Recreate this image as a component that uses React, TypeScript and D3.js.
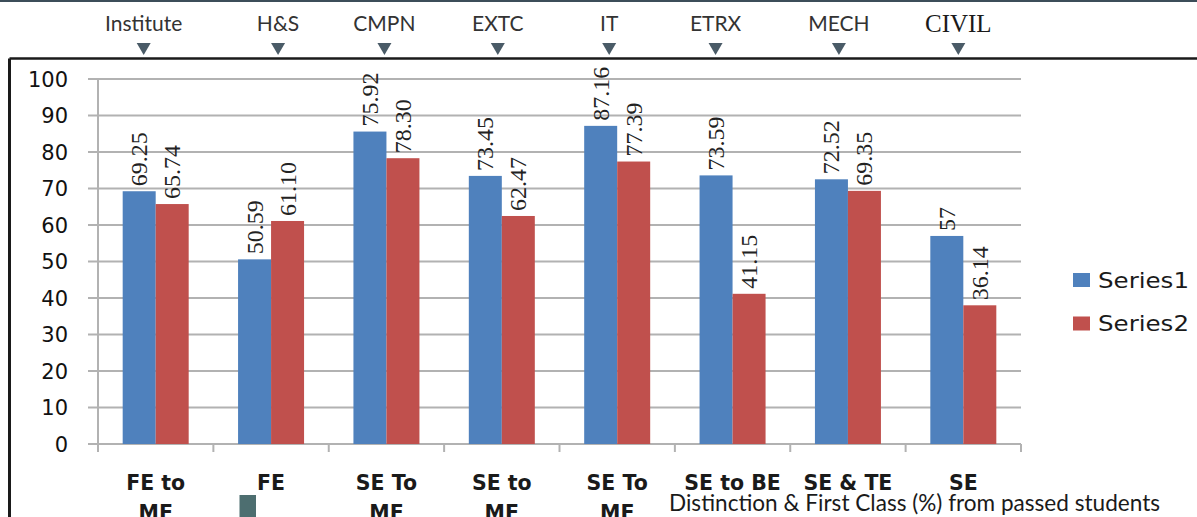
import React from "react";
import * as d3 from "d3";

// chart data
const groups = [
  ["FE to", "ME"],
  ["FE"],
  ["SE To", "ME"],
  ["SE to", "ME"],
  ["SE To", "ME"],
  ["SE to BE"],
  ["SE & TE"],
  ["SE"],
];
const departments = ["Institute", "H&S", "CMPN", "EXTC", "IT", "ETRX", "MECH", "CIVIL"];
const series1 = [69.25, 50.59, 85.6, 73.45, 87.16, 73.59, 72.52, 57];
const series2 = [65.74, 61.1, 78.3, 62.47, 77.39, 41.15, 69.35, 38];
const series1Labels = ["69.25", "50.59", "75.92", "73.45", "87.16", "73.59", "72.52", "57"];
const series2Labels = ["65.74", "61.10", "78.30", "62.47", "77.39", "41.15", "69.35", "36.14"];
const seriesNames = ["Series1", "Series2"];
const caption = "Distinction & First Class (%) from passed students";

const W = 1197;
const H = 517;
const BLUE = "#4f81bd";
const RED = "#c0504d";
const GRID = "#b2b2b2";
const SERIF = "'Liberation Serif', 'Times New Roman', serif";
// the department markers are not quite on the band centres
const deptNudge = [-12, 7, -2, -4, -8, -17, -9, -5];

export default function App() {
  const idx = groups.map((_, i) => String(i));
  const x = d3.scaleBand<string>().domain(idx).range([98, 1021]).padding(0);
  const bw = x.bandwidth();
  const groupW = 66;
  const x1 = d3
    .scaleBand<string>()
    .domain(seriesNames)
    .range([(bw - groupW) / 2, (bw + groupW) / 2]);
  const y = d3.scaleLinear().domain([0, 100]).range([444, 79]);
  const yTicks = y.ticks(10);

  const sets = [
    { name: seriesNames[0], vals: series1, labels: series1Labels, color: BLUE },
    { name: seriesNames[1], vals: series2, labels: series2Labels, color: RED },
  ];

  return (
    <svg
      width={W}
      height={H}
      style={{ position: "absolute", left: 0, top: 0, background: "#fff" }}
    >
      {/* top rule */}
      <rect x={0} y={0} width={W} height={2} fill="#3c4d59" />

      {/* department markers */}
      {departments.map((d, i) => {
        const cx = (x(String(i)) ?? 0) + bw / 2 + deptNudge[i];
        const civil = d === "CIVIL";
        return (
          <g key={d}>
            <text
              x={cx}
              y={civil ? 32 : 30.5}
              textAnchor="middle"
              fontFamily={civil ? SERIF : "Lato"}
              fontSize={civil ? 25 : 21}
              fill={civil ? "#1a1a1a" : "#333"}
            >
              {d}
            </text>
            <path
              d={`M${cx - 7},43 L${cx + 7},43 L${cx},55 Z`}
              fill="#4a5b67"
            />
          </g>
        );
      })}

      {/* frame */}
      <line x1={9.5} y1={58.5} x2={W} y2={58.5} stroke="#1a1a1a" strokeWidth={2.5} />
      <line x1={9.5} y1={58.5} x2={9.5} y2={H} stroke="#1a1a1a" strokeWidth={3} />

      {/* grid */}
      {yTicks.map((t) => (
        <g key={t}>
          <line x1={88} x2={1021} y1={y(t)} y2={y(t)} stroke={GRID} strokeWidth={2} />
          <text
            x={68}
            y={y(t)}
            dy="0.36em"
            textAnchor="end"
            fontFamily="DejaVu Sans"
            fontSize={21}
            fill="#111"
          >
            {t}
          </text>
        </g>
      ))}
      <line x1={98} x2={98} y1={79} y2={452} stroke={GRID} strokeWidth={2} />
      {idx.map((k) => (
        <line
          key={k}
          x1={(x(k) ?? 0) + bw}
          x2={(x(k) ?? 0) + bw}
          y1={444}
          y2={452}
          stroke={GRID}
          strokeWidth={2}
        />
      ))}

      {/* bars */}
      {sets.map((s) =>
        s.vals.map((v, i) => {
          const bx = (x(String(i)) ?? 0) + (x1(s.name) ?? 0);
          const w = x1.bandwidth();
          return (
            <g key={s.name + i}>
              <rect x={bx} y={y(v)} width={w} height={y(0) - y(v)} fill={s.color} />
              <text
                transform={`translate(${bx + w / 2 + 8},${y(v) - 5}) rotate(-90)`}
                style={{ fontFamily: SERIF }}
                fontSize={24}
                fill="#222"
              >
                {s.labels[i]}
              </text>
            </g>
          );
        })
      )}

      {/* category labels */}
      {groups.map((lines, i) => (
        <text
          key={i}
          x={(x(String(i)) ?? 0) + bw / 2}
          y={490}
          textAnchor="middle"
          fontFamily="DejaVu Sans"
          fontWeight="bold"
          fontSize={20.5}
          fill="#1a1a1a"
        >
          {lines.map((l, j) => (
            <tspan key={j} x={(x(String(i)) ?? 0) + bw / 2} dy={j === 0 ? 0 : 30}>
              {l}
            </tspan>
          ))}
        </text>
      ))}

      {/* legend */}
      {sets.map((s, i) => (
        <g key={s.name} transform={`translate(1073,${273 + i * 43.5})`}>
          <rect x={0} y={0} width={17} height={14} fill={s.color} />
          <text
            x={25}
            y={14.5}
            fontFamily="DejaVu Sans"
            fontSize={21}
            fill="#1a1a1a"
            textLength={91}
            lengthAdjust="spacingAndGlyphs"
          >
            {s.name}
          </text>
        </g>
      ))}

      {/* small marker and caption */}
      <rect x={239.5} y={495} width={16.5} height={22} fill="#4d6e70" />
      <text
        x={669}
        y={511}
        fontFamily="Lato"
        fontSize={22.5}
        fill="#1a1a1a"
        textLength={491}
        lengthAdjust="spacingAndGlyphs"
      >
        {caption}
      </text>
    </svg>
  );
}
